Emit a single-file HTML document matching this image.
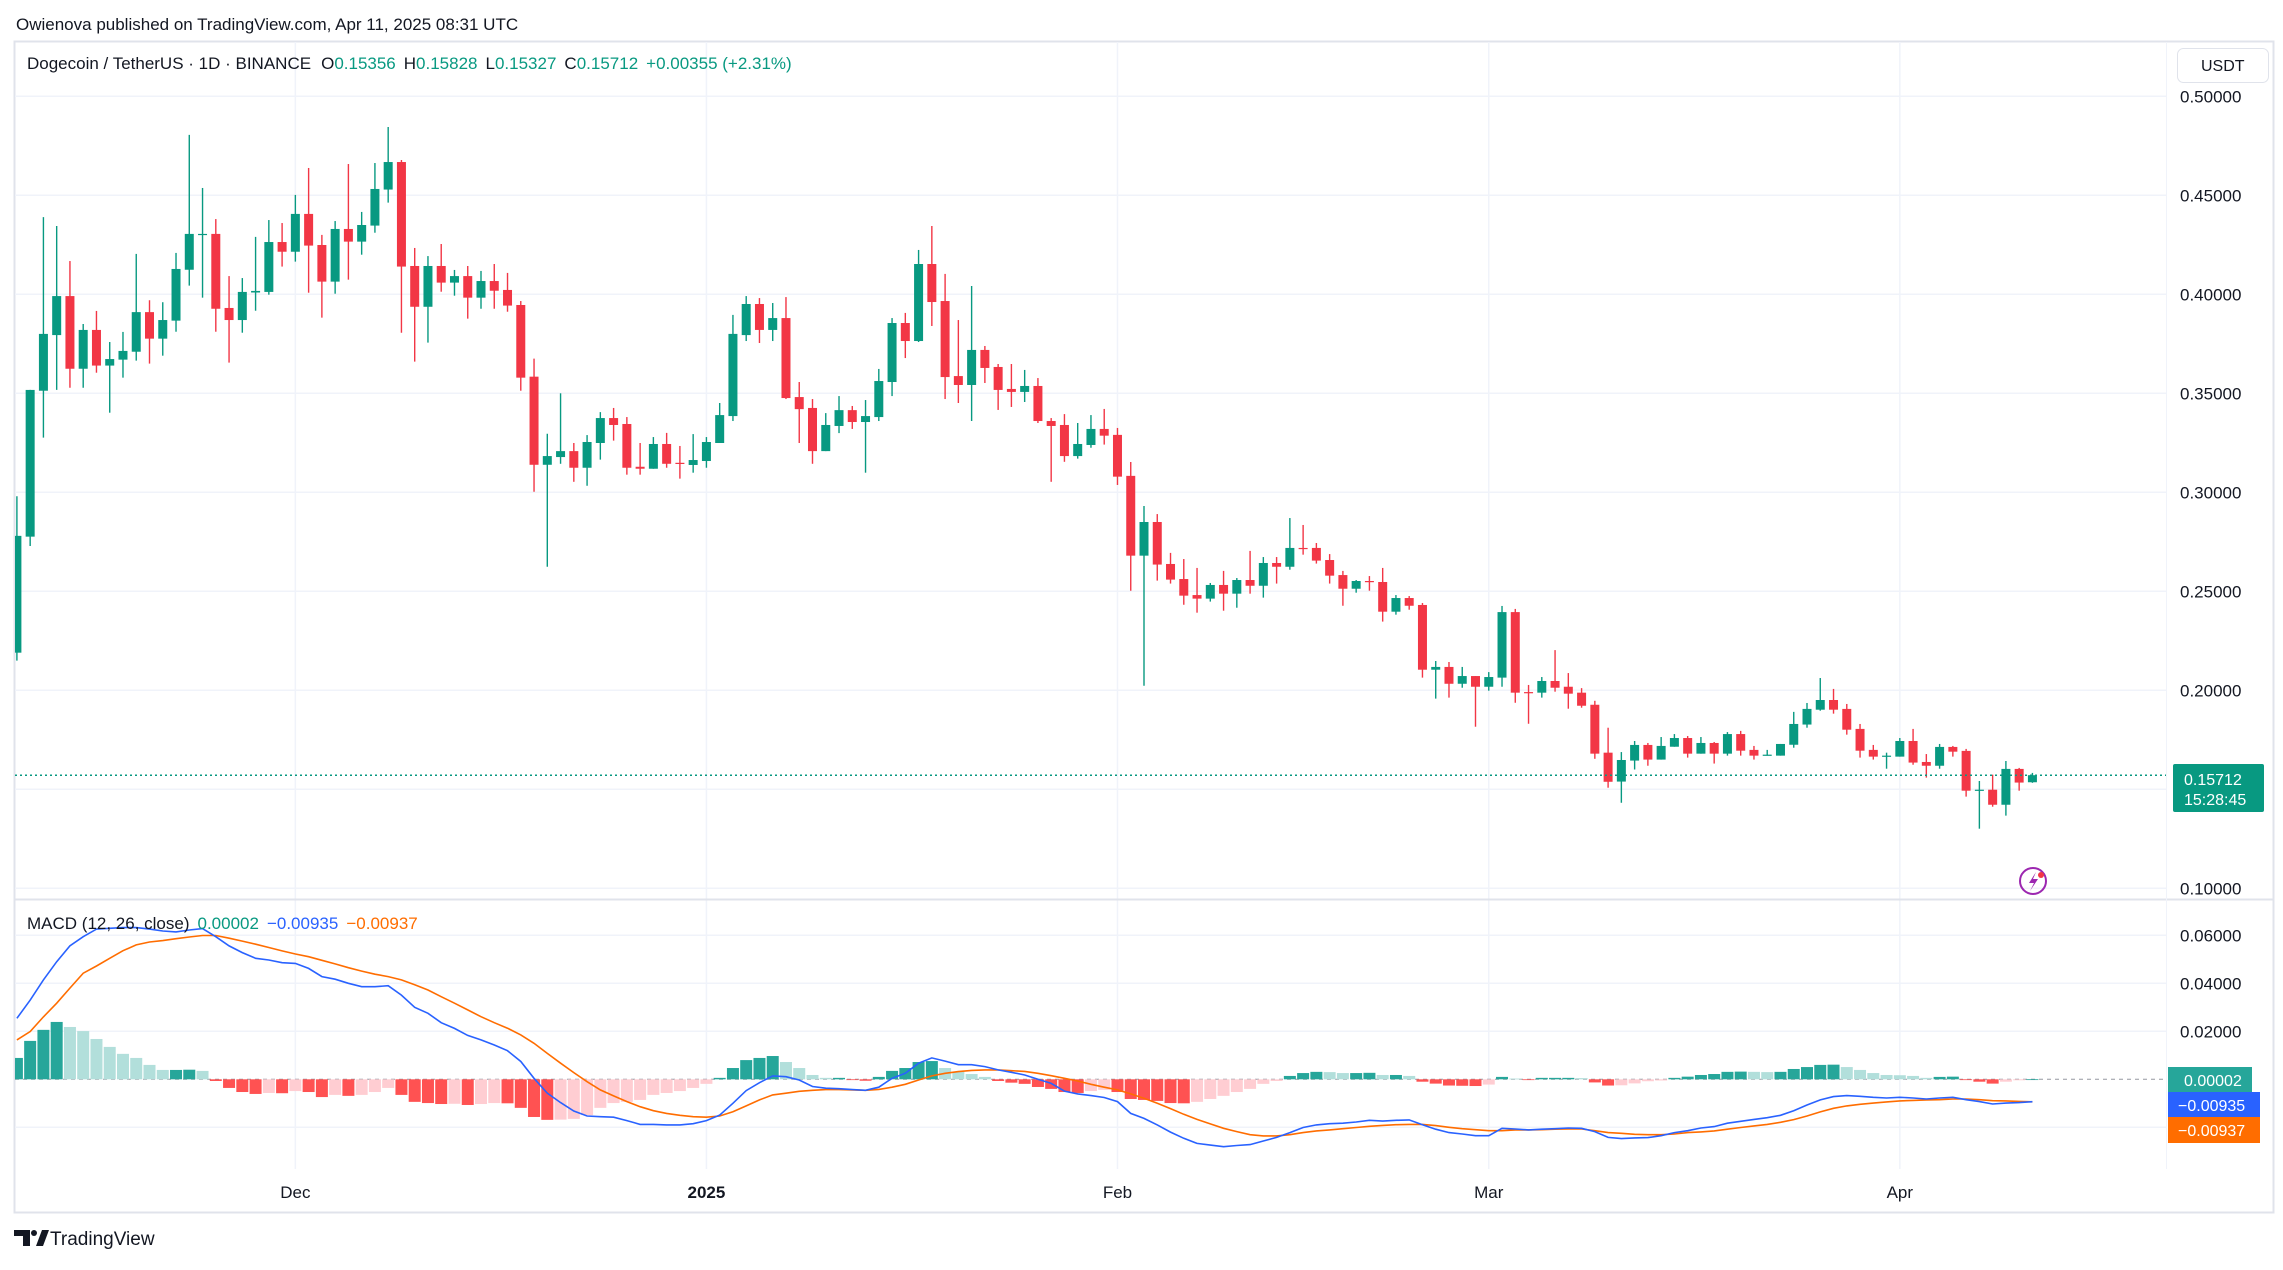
<!DOCTYPE html>
<html><head><meta charset="utf-8">
<style>
html,body{margin:0;padding:0;background:#fff;}
body{width:2283px;height:1265px;overflow:hidden;font-family:"Liberation Sans",sans-serif;}
svg text{font-family:"Liberation Sans",sans-serif;}
</style></head>
<body>
<svg id="chart" width="2283" height="1265" viewBox="0 0 2283 1265" xmlns="http://www.w3.org/2000/svg">
  <rect x="0" y="0" width="2283" height="1265" fill="#ffffff"/>
  <text x="16" y="30" font-size="17" fill="#131722">Owienova published on TradingView.com, Apr 11, 2025 08:31 UTC</text>
  <rect x="14.5" y="41.5" width="2259" height="1171" fill="none" stroke="#e0e3eb" stroke-width="2"/>
  <defs>
    <clipPath id="mainClip"><rect x="15" y="42" width="2151" height="856"/></clipPath>
    <clipPath id="macdClip"><rect x="15" y="901" width="2151" height="268"/></clipPath>
  </defs>
  <g id="grid"></g>
  <line x1="15" y1="899.5" x2="2273" y2="899.5" stroke="#e0e3eb" stroke-width="2"/>
  <line x1="2166.5" y1="42" x2="2166.5" y2="1169" stroke="#f0f3fa" stroke-width="1"/>
  <g id="candles" clip-path="url(#mainClip)"></g>
  <line id="lastLine" x1="15" x2="2166" stroke="#089981" stroke-width="1.5" stroke-dasharray="2,3"/>
  <g id="macd" clip-path="url(#macdClip)"></g>
  <g id="axes"></g>

  <text x="27" y="69" font-size="17" fill="#131722">Dogecoin / TetherUS · 1D · BINANCE<tspan dx="10">O</tspan><tspan fill="#089981">0.15356</tspan><tspan dx="8">H</tspan><tspan fill="#089981">0.15828</tspan><tspan dx="8">L</tspan><tspan fill="#089981">0.15327</tspan><tspan dx="8">C</tspan><tspan fill="#089981">0.15712</tspan><tspan dx="8" fill="#089981">+0.00355 (+2.31%)</tspan></text>

  <rect x="2177.5" y="48.5" width="91" height="34" rx="6" fill="#fff" stroke="#e0e3eb"/>
  <text x="2201" y="71" font-size="16" fill="#131722">USDT</text>

  <text x="27" y="929" font-size="17" fill="#131722">MACD (12, 26, close)<tspan dx="8" fill="#089981">0.00002</tspan><tspan dx="8" fill="#2962ff">−0.00935</tspan><tspan dx="8" fill="#ff6d00">−0.00937</tspan></text>

  <rect x="2173" y="764" width="91" height="48" rx="2" fill="#089981"/>
  <text x="2184" y="785" font-size="16" fill="#fff">0.15712</text>
  <text x="2184" y="805" font-size="16" fill="#fff">15:28:45</text>

  <rect x="2168" y="1067" width="84" height="25" fill="#26a69a"/>
  <text x="2184" y="1086" font-size="16" fill="#fff">0.00002</text>
  <rect x="2168" y="1092" width="92" height="25" fill="#2962ff"/>
  <text x="2178" y="1111" font-size="16" fill="#fff">−0.00935</text>
  <rect x="2168" y="1117" width="92" height="26" fill="#ff6d00"/>
  <text x="2178" y="1136" font-size="16" fill="#fff">−0.00937</text>

  <g>
    <circle cx="2033" cy="881" r="13" fill="none" stroke="#9c27b0" stroke-width="2"/>
    <path d="M2036 872 L2029 883 L2034 883 L2030 891 L2038 879 L2033 879 Z" fill="#9c27b0"/>
    <circle cx="2041" cy="875" r="3" fill="#f23645"/>
  </g>

  <g>
    <path d="M14 1230 h16 v16 h-7 v-10 h-9 Z" fill="#131722"/>
    <circle cx="34" cy="1233" r="3" fill="#131722"/>
    <path d="M36 1246 l6 -16 h7 l-6 16 Z" fill="#131722"/>
    <text x="50" y="1245" font-size="19" fill="#131722">TradingView</text>
  </g>
</svg>
<script>
const opens = [0.219,0.2776,0.3513,0.3794,0.3991,0.3624,0.382,0.364,0.367,0.371,0.391,0.3776,0.3867,0.4124,0.4302,0.4305,0.3931,0.387,0.4009,0.4012,0.4264,0.4215,0.4406,0.4249,0.4064,0.433,0.4266,0.4347,0.4529,0.4668,0.4143,0.3937,0.4143,0.4059,0.4092,0.3983,0.4067,0.4022,0.3946,0.3584,0.3139,0.3178,0.3208,0.3124,0.3249,0.3375,0.3345,0.3129,0.3119,0.3244,0.3149,0.3138,0.3158,0.3249,0.3385,0.3794,0.3951,0.382,0.388,0.3481,0.3426,0.3208,0.3335,0.3415,0.3355,0.338,0.3557,0.3855,0.3764,0.4153,0.3966,0.3587,0.3542,0.3719,0.3633,0.3522,0.3507,0.3537,0.336,0.334,0.3183,0.3239,0.332,0.329,0.3083,0.268,0.285,0.2638,0.2562,0.2481,0.2463,0.2532,0.2488,0.2557,0.2528,0.2643,0.2624,0.2719,0.2719,0.2658,0.2582,0.2513,0.2552,0.2547,0.2397,0.2466,0.2431,0.2104,0.2118,0.2033,0.2072,0.2018,0.2064,0.2395,0.1991,0.1988,0.2047,0.2018,0.1988,0.1927,0.1685,0.1539,0.1645,0.1724,0.165,0.1715,0.1759,0.168,0.1734,0.168,0.1779,0.1699,0.167,0.167,0.1725,0.1827,0.1902,0.1951,0.1906,0.1805,0.1699,0.1665,0.1665,0.1744,0.1638,0.1619,0.1714,0.1694,0.1493,0.1498,0.1422,0.1603,0.15356];
const highs = [0.298,0.3517,0.439,0.4345,0.4168,0.385,0.3916,0.3759,0.381,0.4204,0.397,0.396,0.4209,0.4805,0.4537,0.438,0.4092,0.4082,0.429,0.4375,0.436,0.4502,0.4638,0.43,0.437,0.4658,0.4416,0.4663,0.4845,0.4678,0.4234,0.4193,0.4254,0.4123,0.4143,0.4118,0.4153,0.4108,0.3966,0.3675,0.3296,0.35,0.3249,0.3289,0.3405,0.3426,0.338,0.3249,0.3279,0.33,0.3234,0.3294,0.3279,0.3451,0.3896,0.3991,0.3981,0.3956,0.3986,0.3557,0.3471,0.34,0.3486,0.3436,0.3466,0.3623,0.388,0.3906,0.4224,0.4345,0.4103,0.387,0.4042,0.3739,0.3648,0.3648,0.3618,0.3577,0.3375,0.3395,0.335,0.339,0.3421,0.3325,0.3153,0.2931,0.289,0.2694,0.2663,0.2618,0.2542,0.2603,0.2567,0.2704,0.2673,0.2673,0.287,0.2835,0.2744,0.2688,0.2603,0.2557,0.2577,0.2618,0.2481,0.2476,0.2441,0.2148,0.2143,0.2118,0.2072,0.2092,0.2426,0.2411,0.2027,0.2067,0.2203,0.2087,0.2011,0.1947,0.1811,0.1688,0.1744,0.1734,0.1764,0.1779,0.1769,0.1764,0.1739,0.1789,0.1795,0.1719,0.1699,0.1729,0.1891,0.1936,0.2062,0.2007,0.1931,0.183,0.1724,0.1685,0.1759,0.1805,0.1678,0.1729,0.1719,0.1704,0.1542,0.1574,0.1643,0.1608,0.15828];
const lows = [0.215,0.2729,0.3276,0.3517,0.3528,0.3528,0.3604,0.3402,0.3579,0.3665,0.365,0.369,0.3811,0.4044,0.3983,0.3811,0.3655,0.3806,0.3917,0.3998,0.414,0.4165,0.4008,0.3882,0.4003,0.4074,0.42,0.4311,0.4463,0.3806,0.366,0.3756,0.4013,0.3993,0.3877,0.3927,0.3927,0.3912,0.3513,0.3003,0.2624,0.3144,0.3053,0.3033,0.3165,0.3261,0.3089,0.3089,0.3119,0.3124,0.3069,0.3099,0.3124,0.3249,0.336,0.3764,0.3754,0.3764,0.3471,0.3249,0.3144,0.3208,0.3299,0.332,0.3099,0.336,0.3486,0.3678,0.3759,0.384,0.3471,0.3451,0.336,0.3552,0.3416,0.3431,0.3456,0.335,0.3053,0.3154,0.317,0.3225,0.3241,0.3037,0.2503,0.2023,0.2554,0.2539,0.2432,0.2392,0.2448,0.2402,0.2417,0.2488,0.2468,0.2539,0.2609,0.2685,0.264,0.2539,0.2427,0.2493,0.2503,0.2347,0.2382,0.2407,0.2064,0.1958,0.1963,0.2013,0.1816,0.1998,0.2018,0.1937,0.1831,0.1963,0.1993,0.1907,0.1912,0.1654,0.1508,0.1432,0.16,0.1619,0.165,0.1715,0.166,0.168,0.163,0.167,0.167,0.165,0.167,0.167,0.171,0.1811,0.1897,0.1882,0.1776,0.166,0.165,0.1604,0.1665,0.1624,0.1559,0.1604,0.1665,0.1463,0.1301,0.1412,0.1367,0.1493,0.15327];
const closes = [0.278,0.3517,0.38,0.3991,0.3624,0.382,0.364,0.3673,0.3714,0.391,0.3776,0.387,0.4128,0.4305,0.4305,0.3927,0.387,0.4012,0.4017,0.4264,0.4215,0.4406,0.4246,0.4064,0.433,0.4266,0.435,0.4532,0.4668,0.414,0.3937,0.4143,0.4059,0.4092,0.3983,0.4067,0.4018,0.3943,0.3579,0.3139,0.3183,0.3208,0.3124,0.3254,0.3375,0.334,0.3124,0.3119,0.3244,0.3144,0.3144,0.3163,0.3254,0.339,0.38,0.3951,0.382,0.388,0.3476,0.342,0.3208,0.334,0.3415,0.3355,0.3385,0.3562,0.3855,0.3764,0.4153,0.3961,0.3582,0.3542,0.3719,0.3628,0.3517,0.3507,0.3537,0.336,0.3335,0.3183,0.3244,0.332,0.3286,0.3079,0.268,0.285,0.2635,0.2559,0.2478,0.2463,0.2532,0.2488,0.2557,0.2528,0.2643,0.2624,0.2719,0.2716,0.2655,0.2579,0.2513,0.2552,0.2549,0.2397,0.2466,0.2427,0.2104,0.2118,0.2033,0.2072,0.2018,0.2067,0.2395,0.1988,0.1988,0.2047,0.2013,0.1983,0.1922,0.168,0.1538,0.1648,0.1724,0.165,0.1719,0.1759,0.168,0.1734,0.168,0.1779,0.1695,0.167,0.1675,0.1729,0.183,0.1906,0.1951,0.1902,0.1801,0.1695,0.1665,0.167,0.1744,0.1635,0.1619,0.1714,0.169,0.1493,0.1498,0.1422,0.1603,0.1534,0.15712];
const macdHist = [0.0089,0.016,0.0206,0.0239,0.0218,0.0201,0.0168,0.0135,0.0106,0.0089,0.006,0.0039,0.0039,0.004,0.0035,-0.0007,-0.0036,-0.0053,-0.0061,-0.0057,-0.0058,-0.0049,-0.0053,-0.0074,-0.0065,-0.0069,-0.0065,-0.0053,-0.0036,-0.0065,-0.0094,-0.0099,-0.0103,-0.0102,-0.0107,-0.0103,-0.0099,-0.01,-0.0119,-0.0157,-0.0169,-0.0168,-0.0165,-0.0149,-0.0119,-0.0099,-0.0094,-0.0086,-0.0065,-0.0057,-0.0049,-0.0036,-0.0019,0.0006,0.0047,0.008,0.0089,0.0097,0.0072,0.0047,0.0018,0.0006,0.0006,-0.0002,-0.0006,0.001,0.0035,0.0047,0.0072,0.0076,0.0047,0.0031,0.0022,0.001,-0.0007,-0.0014,-0.0019,-0.0032,-0.004,-0.0053,-0.0057,-0.0049,-0.0044,-0.0053,-0.0082,-0.0086,-0.009,-0.0099,-0.01,-0.0094,-0.0082,-0.0069,-0.0053,-0.004,-0.0019,-0.0007,0.0014,0.0026,0.0031,0.003,0.0026,0.0026,0.0027,0.0018,0.0018,0.0014,-0.001,-0.0018,-0.0026,-0.0027,-0.0028,-0.0022,0.001,0.0003,-0.0003,0.0006,0.0006,0.0006,0.0005,-0.0013,-0.0026,-0.0025,-0.0017,-0.0008,-0.0005,0.0006,0.0011,0.0018,0.0022,0.0031,0.0032,0.0031,0.003,0.0031,0.0043,0.0051,0.006,0.0061,0.0051,0.0039,0.0026,0.0018,0.0017,0.0014,0.0006,0.001,0.0011,-0.0003,-0.001,-0.0018,-0.001,-0.0004,0.00002];
const macdLine = [0.0254,0.033,0.0414,0.049,0.0556,0.0594,0.0626,0.0629,0.0632,0.0632,0.0626,0.0618,0.0614,0.0622,0.0628,0.0594,0.0556,0.0528,0.0504,0.0497,0.0486,0.0483,0.0462,0.0428,0.0417,0.04,0.0386,0.0386,0.039,0.0351,0.03,0.0275,0.0236,0.0212,0.0183,0.0164,0.0143,0.0119,0.0074,0.0004,-0.0058,-0.0097,-0.0132,-0.0153,-0.0156,-0.0158,-0.0172,-0.0188,-0.0188,-0.019,-0.019,-0.0185,-0.0172,-0.0149,-0.01,-0.0047,-0.0014,0.0014,0.0011,-0.0003,-0.003,-0.0037,-0.0039,-0.0043,-0.0046,-0.0033,0.0004,0.0025,0.0067,0.0089,0.0076,0.0061,0.0061,0.0053,0.0039,0.0029,0.0018,0,-0.0017,-0.0049,-0.0061,-0.0068,-0.0076,-0.0093,-0.0142,-0.0163,-0.019,-0.022,-0.0246,-0.0267,-0.0274,-0.0281,-0.0276,-0.0272,-0.0257,-0.0242,-0.0222,-0.0201,-0.019,-0.0185,-0.0183,-0.0178,-0.0171,-0.0174,-0.0171,-0.0169,-0.0189,-0.0208,-0.0222,-0.0228,-0.0235,-0.0235,-0.0204,-0.0207,-0.0211,-0.0208,-0.0206,-0.0203,-0.0204,-0.0218,-0.0242,-0.0247,-0.0244,-0.0243,-0.0235,-0.0222,-0.0214,-0.0203,-0.0197,-0.0183,-0.0175,-0.0167,-0.016,-0.015,-0.0131,-0.0107,-0.0086,-0.0072,-0.0068,-0.0071,-0.0075,-0.0078,-0.0075,-0.0078,-0.0082,-0.0078,-0.0075,-0.0085,-0.0093,-0.0103,-0.0099,-0.0097,-0.00935];
const signalLine = [0.0164,0.0199,0.026,0.0317,0.038,0.0442,0.0472,0.0504,0.0536,0.056,0.0572,0.0578,0.0586,0.0593,0.0599,0.0599,0.0588,0.0576,0.0563,0.0549,0.0535,0.0522,0.0511,0.0496,0.0481,0.0465,0.0451,0.0438,0.0428,0.0414,0.0394,0.0372,0.0344,0.0317,0.0289,0.0261,0.0236,0.0213,0.0185,0.015,0.0108,0.0067,0.0028,-0.001,-0.0044,-0.0069,-0.0093,-0.0114,-0.0131,-0.0142,-0.015,-0.0156,-0.0158,-0.0153,-0.0135,-0.0111,-0.0086,-0.0065,-0.0058,-0.005,-0.0046,-0.0043,-0.0043,-0.0044,-0.0046,-0.0042,-0.0033,-0.0021,-0.0003,0.0014,0.0025,0.0032,0.0037,0.0039,0.0039,0.0036,0.0033,0.0025,0.0015,0.0004,-0.0007,-0.0021,-0.0033,-0.0044,-0.0061,-0.0079,-0.01,-0.0122,-0.0146,-0.0167,-0.0186,-0.0204,-0.0218,-0.0231,-0.0236,-0.0236,-0.0231,-0.0222,-0.0215,-0.0211,-0.0206,-0.0201,-0.0196,-0.0192,-0.0189,-0.0188,-0.0188,-0.0193,-0.02,-0.0206,-0.021,-0.0214,-0.0214,-0.0211,-0.0211,-0.021,-0.0208,-0.0207,-0.0207,-0.0214,-0.0222,-0.0225,-0.0229,-0.0231,-0.0231,-0.0228,-0.0222,-0.0219,-0.0215,-0.0208,-0.0201,-0.0194,-0.0188,-0.0179,-0.0168,-0.0153,-0.0136,-0.0121,-0.0111,-0.0104,-0.0099,-0.0094,-0.009,-0.0088,-0.0086,-0.0085,-0.0082,-0.0082,-0.0085,-0.0089,-0.009,-0.0092,-0.00937];
const priceTicks = [0.10,0.15,0.20,0.25,0.30,0.35,0.40,0.45,0.50];
const priceTickLabels = ["0.10000","","0.20000","0.25000","0.30000","0.35000","0.40000","0.45000","0.50000"];
const macdTicks = [-0.02,0.02,0.04,0.06];
const macdTickLabels = ["","0.02000","0.04000","0.06000"];
const timeTickIndex = [21,52,83,111,142];
const timeTickLabels = ["Dec","2025","Feb","Mar","Apr"];
const lastPrice = 0.15712;

const NS = "http://www.w3.org/2000/svg";
function xAt(i){ return 16.9 + i*13.26; }
function yPrice(p){ return 195.3 + (0.45 - p)*1980; }
function yMacd(v){ return 1079.3 - v*2400; }
function mk(tag, attrs, parent){
  const e = document.createElementNS(NS, tag);
  for (const k in attrs) e.setAttribute(k, attrs[k]);
  parent.appendChild(e);
  return e;
}
const grid = document.getElementById('grid');
const axes = document.getElementById('axes');
priceTicks.forEach((p, k) => {
  const y = yPrice(p);
  const gl = mk('line', {x1:15, x2:2166, y1:y, y2:y, stroke:'#f0f3fa', 'stroke-width':1.5}, grid);
  
  
  if (priceTickLabels[k]) {
    const t = mk('text', {x:2180, y:y+6, 'font-size':17, fill:'#131722'}, axes);
    t.textContent = priceTickLabels[k];
    
    
  }
});
macdTicks.forEach((v, k) => {
  const y = yMacd(v);
  const gl = mk('line', {x1:15, x2:2166, y1:y, y2:y, stroke:'#f0f3fa', 'stroke-width':1.5}, grid);
  
  
  if (macdTickLabels[k]) {
    const t = mk('text', {x:2180, y:y+6, 'font-size':17, fill:'#131722'}, axes);
    t.textContent = macdTickLabels[k];
    
    
  }
});
timeTickIndex.forEach((idx, k) => {
  const x = xAt(idx);
  const gl = mk('line', {x1:x, x2:x, y1:42, y2:1169, stroke:'#f0f3fa', 'stroke-width':1.5}, grid);
  
  
  const t = mk('text', {x:x, y:1198, 'font-size':17, fill:'#131722', 'text-anchor':'middle', 'font-weight': timeTickLabels[k]==='2025'?'bold':'normal'}, axes);
  t.textContent = timeTickLabels[k];
  
  
});

const cg = document.getElementById('candles');
for (let i = 0; i < closes.length; i++) {
  const up = closes[i] >= opens[i];
  const col = up ? '#089981' : '#f23645';
  const x = xAt(i);
  const g = mk('g', {}, cg);
  
  
  mk('line', {x1:x, x2:x, y1:yPrice(highs[i]), y2:yPrice(lows[i]), stroke:col, 'stroke-width':1.4}, g);
  const yt = yPrice(Math.max(opens[i], closes[i]));
  const yb = yPrice(Math.min(opens[i], closes[i]));
  mk('rect', {x:x-4.5, y:yt, width:9, height:Math.max(1.2, yb-yt), fill:col}, g);
}
const ll = document.getElementById('lastLine');
ll.setAttribute('y1', yPrice(lastPrice));
ll.setAttribute('y2', yPrice(lastPrice));

const mg = document.getElementById('macd');
const zl = mk('line', {x1:15, x2:2166, y1:yMacd(0), y2:yMacd(0), stroke:'#9598a1', 'stroke-width':1, 'stroke-dasharray':'4,4'}, mg);


for (let i = 0; i < macdHist.length; i++) {
  const h = macdHist[i];
  const prev = i > 0 ? macdHist[i-1] : 0;
  let col;
  if (h >= 0) col = h >= prev ? '#26a69a' : '#b2dfdb';
  else col = h < prev ? '#ff5252' : '#ffcdd2';
  const y0 = yMacd(0), y1 = yMacd(h);
  const b = mk('rect', {x:xAt(i)-6, y:Math.min(y0,y1), width:12, height:Math.max(0.8, Math.abs(y1-y0)), fill:col}, mg);
  
  
}
function linePath(arr){
  return arr.map((v,i)=>(i?'L':'M')+xAt(i).toFixed(1)+' '+yMacd(v).toFixed(1)).join(' ');
}
const sl = mk('path', {d:linePath(signalLine), fill:'none', stroke:'#ff6d00', 'stroke-width':1.6}, mg);


const ml = mk('path', {d:linePath(macdLine), fill:'none', stroke:'#2962ff', 'stroke-width':1.6}, mg);


</script>
</body></html>
